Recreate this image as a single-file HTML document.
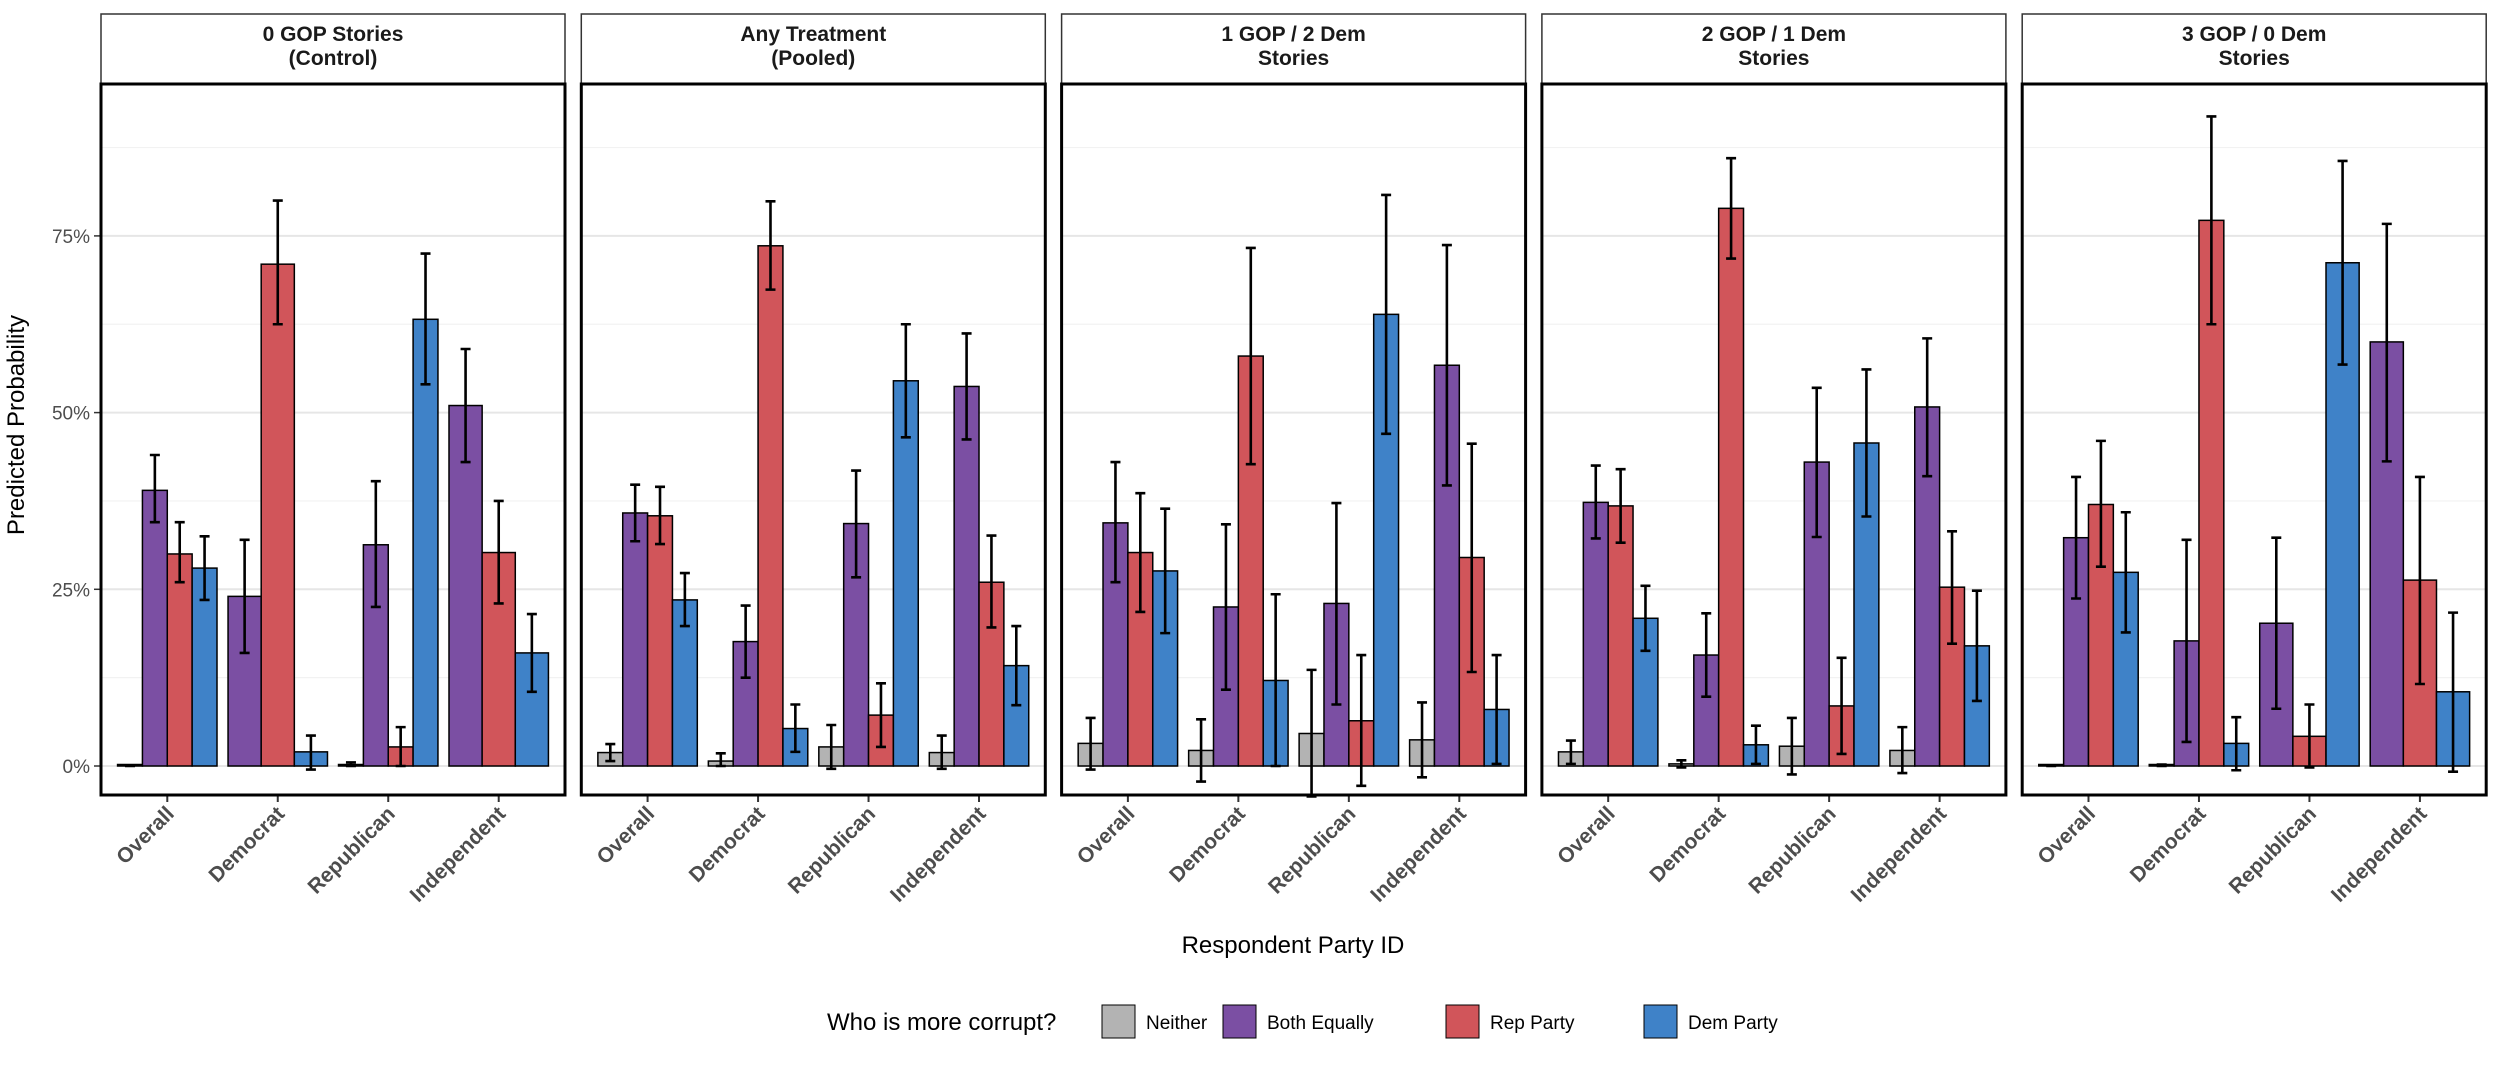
<!DOCTYPE html>
<html><head><meta charset="utf-8">
<style>
html,body{margin:0;padding:0;background:#fff;}
svg{display:block;font-family:"Liberation Sans",Arial,sans-serif;}
</style></head>
<body>
<svg id="chart" width="2500" height="1071" viewBox="0 0 2500 1071">
<g id="plot"></g>
<text x="24" y="425" transform="rotate(-90 24 425)" text-anchor="middle" font-size="24" fill="#000">Predicted Probability</text>
<text x="1293" y="953" text-anchor="middle" font-size="24" fill="#000">Respondent Party ID</text>
<g>
<text x="827" y="1030" font-size="24" fill="#000">Who is more corrupt?</text>
<rect x="1102" y="1005" width="33" height="33" fill="#b3b3b3" stroke="#000" stroke-width="1"/>
<text x="1146" y="1029" font-size="19">Neither</text>
<rect x="1223" y="1005" width="33" height="33" fill="#7b4fa3" stroke="#000" stroke-width="1"/>
<text x="1267" y="1029" font-size="19">Both Equally</text>
<rect x="1446" y="1005" width="33" height="33" fill="#d1555a" stroke="#000" stroke-width="1"/>
<text x="1490" y="1029" font-size="19">Rep Party</text>
<rect x="1644" y="1005" width="33" height="33" fill="#3f82c8" stroke="#000" stroke-width="1"/>
<text x="1688" y="1029" font-size="19">Dem Party</text>
</g>
</svg>
<script>
const panels = [["0 GOP Stories","(Control)"],["Any Treatment","(Pooled)"],["1 GOP / 2 Dem","Stories"],["2 GOP / 1 Dem","Stories"],["3 GOP / 0 Dem","Stories"]];
const categories = ["Overall","Democrat","Republican","Independent"];
const seriesNames = ["Neither","Both Equally","Rep Party","Dem Party"];
const yTicks = [0,0.25,0.5,0.75];
const yTickLabels = ["0%","25%","50%","75%"];
// values[panel][category] = [neither, both, rep, dem]; null = absent
const neitherVals = [[0,null,0.002,null],[0.019,0.007,0.027,0.019],[0.032,0.022,0.046,0.037],[0.02,0.003,0.028,0.022],[0,0.001,null,null]];
const neitherLo = [[0,null,0,null],[0.007,0,-0.004,-0.004],[-0.005,-0.022,-0.043,-0.016],[0.003,-0.002,-0.012,-0.01],[0,0,null,null]];
const neitherHi = [[0,null,0.005,null],[0.031,0.018,0.058,0.043],[0.068,0.066,0.136,0.09],[0.036,0.008,0.068,0.055],[0,0.002,null,null]];
const bothVals = [[0.39,0.24,0.313,0.51],[0.358,0.176,0.343,0.537],[0.344,0.225,0.23,0.567],[0.373,0.157,0.43,0.508],[0.323,0.177,0.202,0.60]];
const bothLo = [[0.345,0.16,0.225,0.43],[0.318,0.125,0.267,0.462],[0.26,0.108,0.087,0.397],[0.322,0.098,0.324,0.41],[0.237,0.034,0.081,0.431]];
const bothHi = [[0.44,0.32,0.403,0.59],[0.398,0.227,0.418,0.612],[0.43,0.342,0.372,0.737],[0.425,0.216,0.535,0.605],[0.409,0.32,0.323,0.767]];
const repVals = [[0.30,0.71,0.027,0.302],[0.354,0.736,0.072,0.26],[0.302,0.58,0.064,0.295],[0.368,0.789,0.085,0.253],[0.37,0.772,0.042,0.263]];
const repLo = [[0.26,0.625,0,0.23],[0.314,0.674,0.027,0.196],[0.218,0.427,-0.028,0.133],[0.316,0.718,0.017,0.173],[0.282,0.625,-0.002,0.116]];
const repHi = [[0.345,0.80,0.055,0.375],[0.395,0.799,0.117,0.326],[0.386,0.733,0.157,0.456],[0.42,0.86,0.153,0.332],[0.46,0.919,0.087,0.409]];
const demVals = [[0.28,0.02,0.632,0.16],[0.235,0.053,0.545,0.142],[0.276,0.121,0.639,0.08],[0.209,0.03,0.457,0.17],[0.274,0.032,0.712,0.105]];
const demLo = [[0.235,-0.005,0.54,0.105],[0.198,0.02,0.465,0.086],[0.188,0,0.47,0.003],[0.163,0.003,0.353,0.092],[0.189,-0.006,0.568,-0.008]];
const demHi = [[0.325,0.043,0.725,0.215],[0.273,0.087,0.625,0.198],[0.364,0.243,0.808,0.157],[0.255,0.057,0.561,0.248],[0.359,0.069,0.856,0.217]];

const colors = ["#b3b3b3","#7b4fa3","#d1555a","#3f82c8"];
const NS = "http://www.w3.org/2000/svg";
const root = document.getElementById("plot");
const panelLeft0 = 101, panelStep = 480.3, panelW = 464;
const plotTop = 84, plotBottom = 795, stripTop = 14;
const y0 = 766, yPerUnit = 706.8;
function yScale(v){ return y0 - v*yPerUnit; }
function xCat(p,i){ const unit = panelW/4.2; return panelLeft0 + p*panelStep + unit*(0.6 + i); }
function mk(tag, attrs, parent){ const e=document.createElementNS(NS,tag); for(const k in attrs) e.setAttribute(k,attrs[k]); (parent||root).appendChild(e); return e; }

const allVals=[neitherVals,bothVals,repVals,demVals], allLo=[neitherLo,bothLo,repLo,demLo], allHi=[neitherHi,bothHi,repHi,demHi];
const keys=["neither","both","rep","dem"];

for(let p=0;p<panels.length;p++){
  const L = panelLeft0 + p*panelStep;
  const g = mk("g",{});
  
  
  const strip = mk("rect",{x:L,y:stripTop,width:panelW,height:plotTop-stripTop,fill:"#fff",stroke:"#333","stroke-width":1.5},g);
  
  
  panels[p].forEach((ln,k)=>{
    const t = mk("text",{x:L+panelW/2,y:stripTop+27+k*24,"text-anchor":"middle","font-size":21,"font-weight":"bold",fill:"#1a1a1a"},g);
    t.textContent = ln;
    
    
  });
  // minor + major grid
  [0.125,0.375,0.625,0.875].forEach(v=>{ mk("line",{x1:L,x2:L+panelW,y1:yScale(v),y2:yScale(v),stroke:"#f2f2f2","stroke-width":1.2},g); });
  yTicks.forEach(v=>{ mk("line",{x1:L,x2:L+panelW,y1:yScale(v),y2:yScale(v),stroke:"#e6e6e6","stroke-width":2},g); });
  if(p===0){
    yTicks.forEach((v,k)=>{
      mk("line",{x1:L-7,x2:L,y1:yScale(v),y2:yScale(v),stroke:"#333","stroke-width":1.5},g);
      const t = mk("text",{x:L-11,y:yScale(v)+7,"text-anchor":"end","font-size":19,fill:"#4d4d4d"},g);
      t.textContent = yTickLabels[k];
      
      
    });
  }
  const W = 0.9*panelW/4.2;
  for(let c=0;c<categories.length;c++){
    const cx = xCat(p,c);
    const present = [0,1,2,3].filter(s=>allVals[s][p][c]!==null);
    const n = present.length, bw = W/n;
    present.forEach((s,idx)=>{
      const v = allVals[s][p][c];
      const bx = cx - W/2 + idx*bw;
      const top = yScale(v), h = Math.max(1.5, y0-top);
      const r = mk("rect",{x:bx,y:Math.min(top,y0-1.5),width:bw,height:h,fill:colors[s],stroke:"#000","stroke-width":1.5},g);
      
      
      const mx = bx+bw/2, lo=yScale(allLo[s][p][c]), hi=yScale(allHi[s][p][c]);
      const e = mk("path",{d:`M${mx},${lo}V${hi}M${mx-5},${lo}H${mx+5}M${mx-5},${hi}H${mx+5}`,stroke:"#000","stroke-width":2.6,fill:"none"},g);
      
      
    });
    mk("line",{x1:cx,x2:cx,y1:plotBottom,y2:plotBottom+7,stroke:"#333","stroke-width":2},g);
    const tx = cx+8, ty = plotBottom+20;
    const t = mk("text",{x:tx,y:ty,"text-anchor":"end","font-size":21,"font-weight":"bold",fill:"#4d4d4d",transform:`rotate(-45 ${tx} ${ty})`},g);
    t.textContent = categories[c];
    
    
  }
  mk("rect",{x:L,y:plotTop,width:panelW,height:plotBottom-plotTop,fill:"none",stroke:"#000","stroke-width":3},g);
}
</script>
</body></html>
